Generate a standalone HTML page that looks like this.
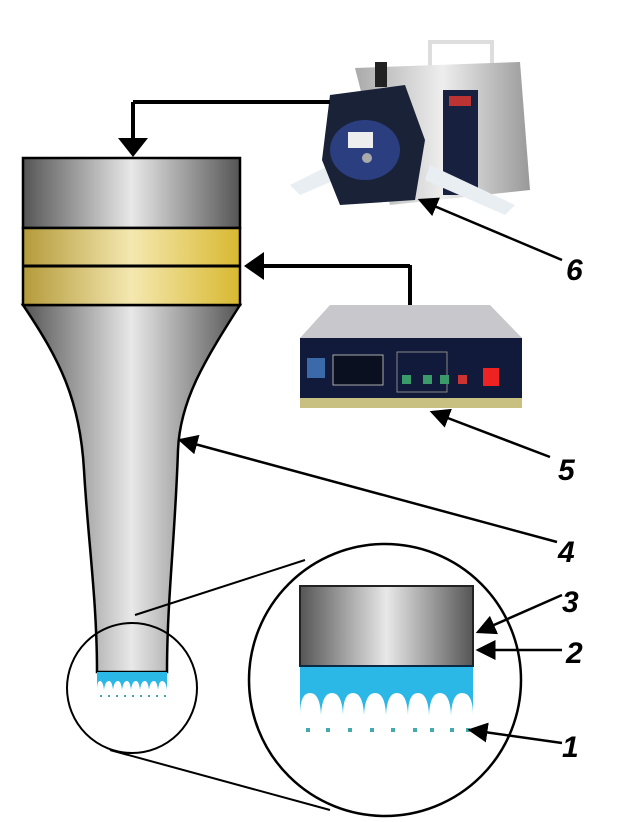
<!DOCTYPE html>
<html><head><style>body{margin:0;background:#fff}svg{display:block}</style></head><body>
<svg width="622" height="822" viewBox="0 0 622 822" xmlns="http://www.w3.org/2000/svg">
<defs>
<linearGradient id="g" x1="0" x2="1"><stop offset="0" stop-color="#555"/><stop offset=".5" stop-color="#e8e8e8"/><stop offset="1" stop-color="#555"/></linearGradient>
<linearGradient id="gold" x1="0" x2="1"><stop offset="0" stop-color="#b49a3a"/><stop offset=".5" stop-color="#f4e8b0"/><stop offset="1" stop-color="#d8b830"/></linearGradient>
<linearGradient id="steel" x1="0" x2="1"><stop offset="0" stop-color="#aaa"/><stop offset=".5" stop-color="#eee"/><stop offset="1" stop-color="#999"/></linearGradient>
<marker id="a" markerWidth="8" markerHeight="8" refX="7" refY="4" orient="auto" markerUnits="strokeWidth"><path d="M0,0 L8,4 L0,8 z" fill="#000"/></marker>
</defs>
<!-- horn -->
<path d="M23,305 L240,305 C205,360 180,400 178,450 C175,540 167,600 167,672 L97,672 C97,600 88,540 84,470 C80,400 60,360 23,305 Z" fill="url(#g)" stroke="#000" stroke-width="2.5"/>
<rect x="23" y="158" width="217" height="70" fill="url(#g)" stroke="#000" stroke-width="2.5"/>
<rect x="23" y="228" width="217" height="77" fill="url(#gold)" stroke="#000" stroke-width="2.5"/>
<line x1="23" y1="266" x2="240" y2="266" stroke="#000" stroke-width="3"/>
<path d="M97,672 L167,672 L167,690 Q166,681 162,681 Q159,681 158,690 Q157,681 154,681 Q150,681 149,690 Q148,681 145,681 Q141,681 140,690 Q139,681 136,681 Q132,681 131,690 Q130,681 127,681 Q123,681 122,690 Q121,681 118,681 Q114,681 113,690 Q112,681 109,681 Q105,681 104,690 Q103,681 100,681 Q97,681 97,690 Z" fill="#2bb8e6"/>
<g fill="#4aa">
<rect x="100" y="695" width="2" height="2"/><rect x="108" y="695" width="2" height="2"/><rect x="116" y="695" width="2" height="2"/><rect x="124" y="695" width="2" height="2"/><rect x="132" y="695" width="2" height="2"/><rect x="140" y="695" width="2" height="2"/><rect x="148" y="695" width="2" height="2"/><rect x="156" y="695" width="2" height="2"/><rect x="164" y="695" width="2" height="2"/></g>
<!-- circles -->
<circle cx="132" cy="688" r="65" fill="none" stroke="#000" stroke-width="2"/>
<circle cx="385" cy="680" r="136" fill="none" stroke="#000" stroke-width="2.5"/>
<line x1="135" y1="615" x2="305" y2="560" stroke="#000" stroke-width="2"/>
<line x1="110" y1="750" x2="330" y2="810" stroke="#000" stroke-width="2"/>
<rect x="300" y="586" width="173" height="80" fill="url(#g)" stroke="#222" stroke-width="2"/>
<path d="M300,666 L473,666 L473,715 Q473,693 462,693 Q452,693 451,715 Q450,693 440,693 Q430,693 429,715 Q428,693 418,693 Q408,693 408,715 Q407,693 397,693 Q387,693 386,715 Q385,693 375,693 Q365,693 364,715 Q363,693 353,693 Q343,693 343,715 Q342,693 332,693 Q322,693 321,715 Q320,693 310,693 Q300,693 300,715 Z" fill="#2bb8e6"/>
<line x1="300" y1="666" x2="473" y2="666" stroke="#0a2a44" stroke-width="2"/>
<g fill="#4aa"><rect x="306" y="728" width="4" height="4"/><rect x="326" y="728" width="4" height="4"/><rect x="348" y="728" width="4" height="4"/><rect x="370" y="728" width="4" height="4"/><rect x="391" y="728" width="4" height="4"/><rect x="413" y="728" width="4" height="4"/><rect x="430" y="728" width="4" height="4"/><rect x="450" y="728" width="4" height="4"/><rect x="466" y="728" width="4" height="4"/></g>
<!-- pump -->
<rect x="430" y="42" width="62" height="30" fill="none" stroke="#ddd" stroke-width="4"/>
<path d="M355,68 L520,62 L530,190 L390,205 Z" fill="url(#steel)"/>
<rect x="443" y="90" width="35" height="105" fill="#182040"/>
<rect x="449" y="96" width="22" height="10" fill="#b33"/>
<path d="M290,185 L330,165 L335,180 L300,195 Z M430,165 L515,205 L505,215 L425,180 Z" fill="#e8eef2"/>
<path d="M330,95 L405,85 L425,140 L415,200 L340,205 L322,160 Z" fill="#1a2238"/>
<ellipse cx="365" cy="150" rx="35" ry="30" fill="#2a3e80"/>
<rect x="348" y="132" width="25" height="16" fill="#eee"/>
<rect x="375" y="62" width="12" height="25" fill="#222"/>
<circle cx="367" cy="158" r="5" fill="#aaa"/>
<line x1="330" y1="102" x2="133" y2="102" stroke="#000" stroke-width="4"/>
<line x1="133" y1="102" x2="133" y2="140" stroke="#000" stroke-width="4"/>
<path d="M118,138 L148,138 L133,157 Z" fill="#000"/>
<!-- controller -->
<line x1="410" y1="305" x2="410" y2="265" stroke="#000" stroke-width="4"/>
<line x1="410" y1="266" x2="262" y2="266" stroke="#000" stroke-width="4"/>
<path d="M264,252 L264,280 L244,266 Z" fill="#000"/>
<path d="M330,305 L490,305 L522,338 L300,338 Z" fill="#c8c8cc"/>
<rect x="300" y="338" width="222" height="62" fill="#111a3a"/>
<rect x="300" y="398" width="222" height="10" fill="#c8c080"/>
<rect x="307" y="358" width="18" height="20" fill="#3a6aa8"/>
<rect x="333" y="355" width="50" height="30" fill="#0a1020" stroke="#aaa"/>
<rect x="397" y="352" width="50" height="40" fill="none" stroke="#888"/>
<rect x="402" y="375" width="9" height="9" fill="#3a9a6a"/><rect x="423" y="375" width="9" height="9" fill="#3a9a6a"/>
<rect x="440" y="375" width="9" height="9" fill="#3a9a6a"/>
<rect x="458" y="375" width="9" height="9" fill="#c33"/>
<rect x="483" y="368" width="16" height="18" fill="#e22"/>
<!-- arrows -->
<g stroke="#000" stroke-width="2.5" fill="none">
<line x1="562" y1="260" x2="420" y2="200" marker-end="url(#a)"/>
<line x1="550" y1="457" x2="432" y2="412" marker-end="url(#a)"/>
<line x1="557" y1="542" x2="180" y2="440" marker-end="url(#a)"/>
<line x1="562" y1="595" x2="478" y2="632" marker-end="url(#a)"/>
<line x1="562" y1="650" x2="478" y2="650" marker-end="url(#a)"/>
<line x1="562" y1="743" x2="470" y2="730" marker-end="url(#a)"/>
</g>
<g font-family="Liberation Sans, sans-serif" font-weight="bold" font-style="italic" font-size="30" fill="#000">
<text x="566" y="280">6</text><text x="558" y="480">5</text><text x="558" y="562">4</text>
<text x="562" y="612">3</text><text x="566" y="663">2</text><text x="562" y="757">1</text>
</g>
</svg>
</body></html>
